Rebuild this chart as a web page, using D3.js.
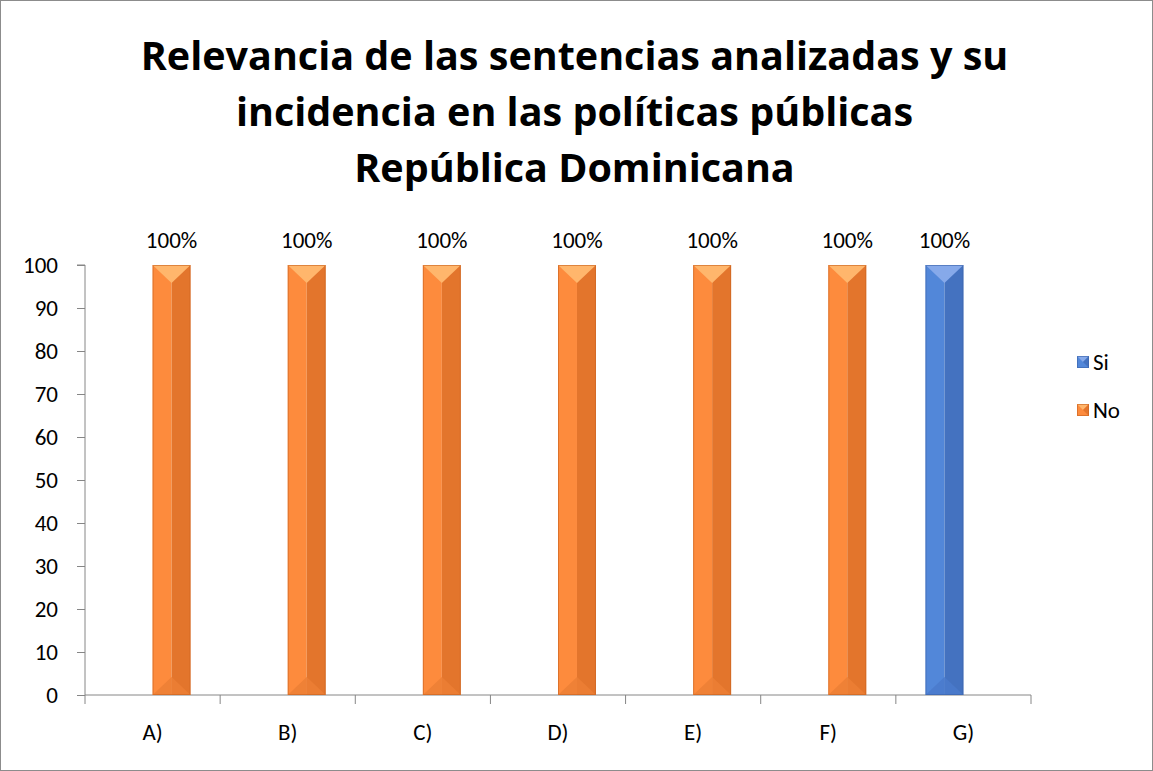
<!DOCTYPE html>
<html>
<head>
<meta charset="utf-8">
<script src="https://cdn.jsdelivr.net/npm/d3@7"></script>
<style>
  html, body { margin: 0; padding: 0; background: #fff; }
  svg { display: block; }
  text { font-family: Carlito, Lato, "Open Sans", sans-serif; fill: #000; }
</style>
</head>
<body>
<svg id="chart" width="1153" height="771"></svg>
<script>
// Chart data
const categories = ["A)", "B)", "C)", "D)", "E)", "F)", "G)"];
const seriesNames = ["Si", "No"];
const siValues = [0, 0, 0, 0, 0, 0, 100];
const noValues = [100, 100, 100, 100, 100, 100, 0];
const yTicks = [0, 10, 20, 30, 40, 50, 60, 70, 80, 90, 100];
const titleLines = [
  "Relevancia de las sentencias analizadas y su",
  "incidencia en las políticas públicas",
  "República Dominicana"
];

const W = 1153, H = 771;
const plot = { left: 85, right: 1031, top: 265, bottom: 695 };
const labelFont = "Carlito, Lato, 'Open Sans', sans-serif";

const palette = {
  Si: { left: "#5287d9", right: "#4472c0", top: "#86a9ea", bottom: "#4a7acb", edge: "#3a63a8" },
  No: { left: "#fd8b3d", right: "#e3752c", top: "#ffb66c", bottom: "#ec7f35", edge: "#c8631f" }
};

const svg = d3.select("#chart");

// outer frame
svg.append("rect")
  .attr("x", 0.5).attr("y", 0.5).attr("width", W - 1).attr("height", H - 1)
  .attr("fill", "#fff").attr("stroke", "#8c8c8c").attr("stroke-width", 1);

// title
const titleG = svg.append("g");
const titleBaselines = [70, 126, 182];
titleLines.forEach((t, i) => {
  titleG.append("text")
    .attr("x", W / 2 - 2).attr("y", titleBaselines[i])
    .attr("text-anchor", "middle")
    .style("font-family", "'Open Sans', Lato, sans-serif")
    .style("font-weight", "bold")
    .style("font-size", "39.5px")
    .text(t);
});

// scales
const x = d3.scaleBand().domain(categories).range([plot.left, plot.right]).padding(0);
const xs = d3.scaleBand().domain(seriesNames).range([0, x.bandwidth()])
  .paddingInner(0).paddingOuter(0.78);
const y = d3.scaleLinear().domain([0, 100]).range([plot.bottom, plot.top]);

// y axis
const yAxis = d3.axisLeft(y).tickValues(yTicks).tickSize(8).tickPadding(19);
const yg = svg.append("g").attr("transform", `translate(${plot.left},0)`).call(yAxis);
yg.select(".domain").attr("stroke", "#868686").attr("d", `M-8,${plot.top}H0V${plot.bottom}`);
yg.selectAll(".tick line").attr("stroke", "#868686");
yg.selectAll(".tick text")
  .style("font-size", "23px")
  .style("font-family", labelFont)
  .attr("fill", "#000");

// x axis
const xAxis = d3.axisBottom(x).tickSize(0).tickPadding(29);
const xg = svg.append("g").attr("transform", `translate(0,${plot.bottom})`).call(xAxis);
xg.select(".domain").attr("stroke", "#868686").attr("d", `M${plot.left},0H${plot.right}`);
xg.selectAll(".tick text")
  .style("font-size", "23px")
  .style("font-family", labelFont)
  .attr("fill", "#000");
// category separators
const seps = categories.map(c => x(c)).concat([plot.right]);
svg.append("g").selectAll("line").data(seps).join("line")
  .attr("x1", d => d).attr("x2", d => d)
  .attr("y1", plot.bottom).attr("y2", plot.bottom + 9)
  .attr("stroke", "#868686");

// bevelled bar
function bevelBar(g, x0, w, yTop, yBot, c) {
  const d = Math.min(w / 2, 18, (yBot - yTop) / 2);
  const xm = x0 + w / 2, x1 = x0 + w;
  g.append("rect").attr("x", x0).attr("y", yTop).attr("width", w / 2).attr("height", yBot - yTop).attr("fill", c.left);
  g.append("rect").attr("x", xm).attr("y", yTop).attr("width", w / 2).attr("height", yBot - yTop).attr("fill", c.right);
  g.append("path").attr("d", `M${x0},${yTop}L${x1},${yTop}L${xm},${yTop + d}Z`).attr("fill", c.top);
  g.append("path").attr("d", `M${x0},${yBot}L${x1},${yBot}L${xm},${yBot - d}Z`).attr("fill", c.bottom).attr("opacity", 0.85);
  g.append("rect").attr("x", x0 + 0.5).attr("y", yTop + 0.5).attr("width", w - 1).attr("height", yBot - yTop - 1)
    .attr("fill", "none").attr("stroke", c.edge).attr("stroke-width", 1).attr("opacity", 0.6);
}

const series = [
  { name: "Si", values: siValues },
  { name: "No", values: noValues }
];

const barsG = svg.append("g");
const labelsG = svg.append("g");
series.forEach(s => {
  s.values.forEach((v, i) => {
    if (v <= 0) return;
    const bx = x(categories[i]) + xs(s.name);
    const bw = xs.bandwidth();
    bevelBar(barsG, bx, bw, y(v), y(0), palette[s.name]);
    labelsG.append("text")
      .attr("x", bx + bw / 2).attr("y", y(v) - 17)
      .attr("text-anchor", "middle")
      .style("font-size", "23px")
      .text(v + "%");
  });
});

// legend
const legend = svg.append("g");
seriesNames.forEach((n, i) => {
  const ly = 362 + i * 48;
  const g = legend.append("g");
  const c = palette[n];
  const sx = 1077, sy = ly - 6, ss = 12;
  g.append("rect").attr("x", sx).attr("y", sy).attr("width", ss).attr("height", ss).attr("fill", c.left);
  g.append("path").attr("d", `M${sx},${sy}L${sx + ss},${sy}L${sx + ss / 2},${sy + ss / 2}Z`).attr("fill", c.top);
  g.append("path").attr("d", `M${sx + ss},${sy}L${sx + ss},${sy + ss}L${sx + ss / 2},${sy + ss / 2}Z`).attr("fill", c.right);
  g.append("rect").attr("x", sx + 0.5).attr("y", sy + 0.5).attr("width", ss - 1).attr("height", ss - 1)
    .attr("fill", "none").attr("stroke", c.edge).attr("opacity", 0.6);
  g.append("text").attr("x", 1093).attr("y", ly + 8).style("font-size", "23px").text(n);
});
</script>
</body>
</html>
